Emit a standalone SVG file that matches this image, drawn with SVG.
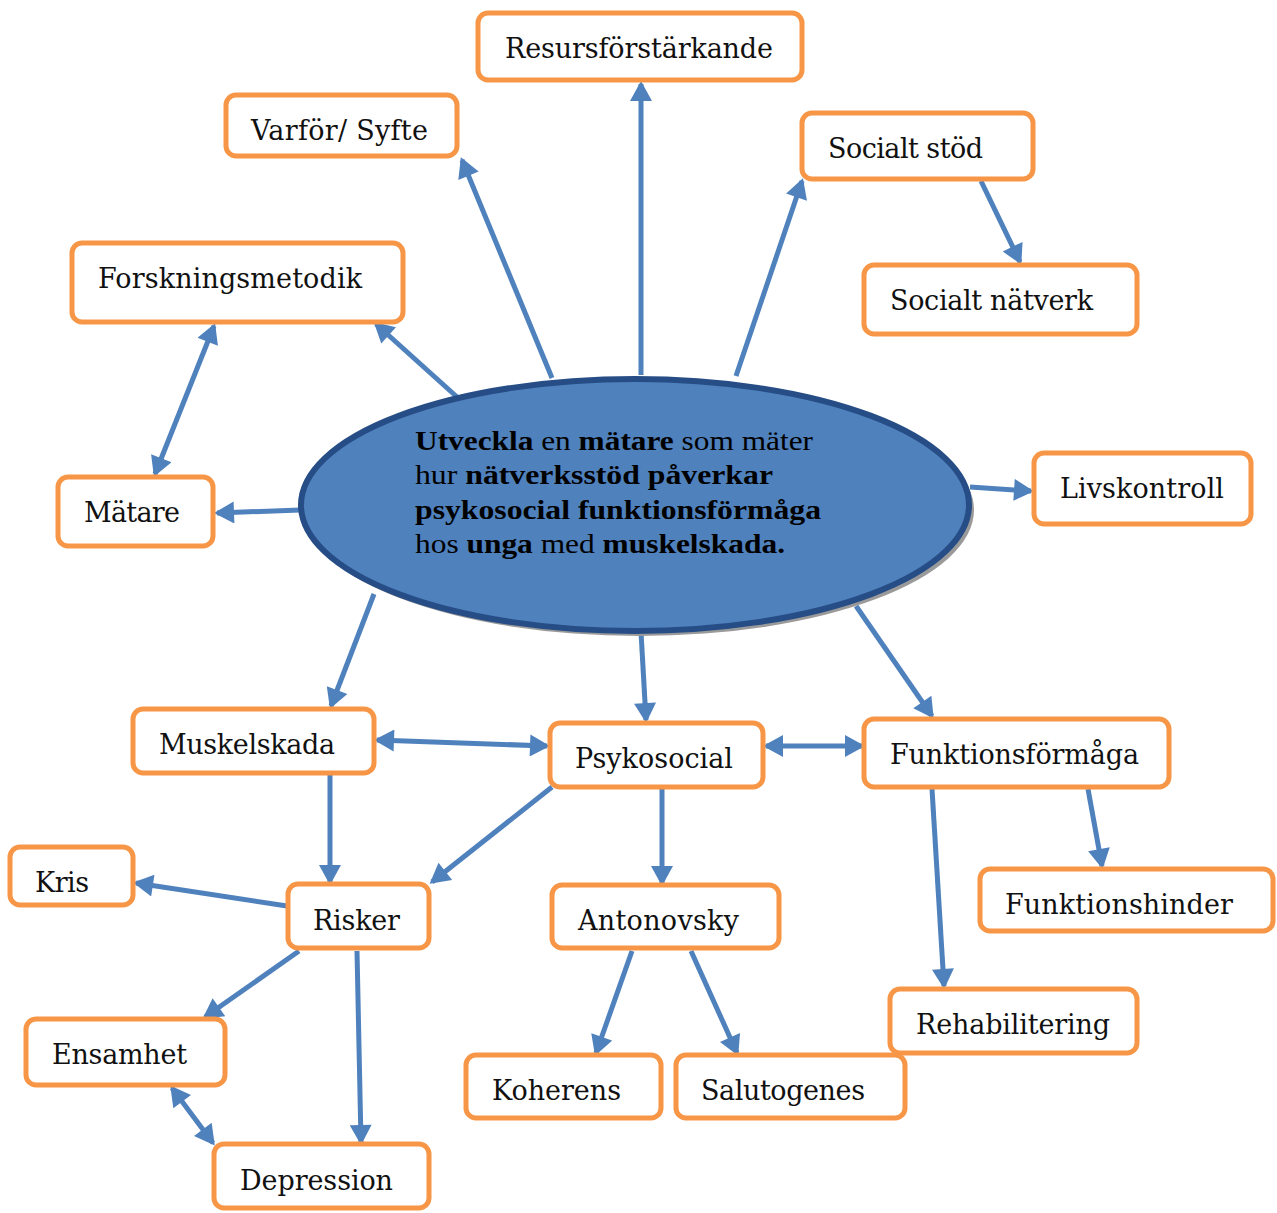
<svg xmlns="http://www.w3.org/2000/svg" width="1277" height="1213" viewBox="0 0 1277 1213">
<defs>
<style>
.box{fill:#fff;stroke:#f79646;stroke-width:5}
.lbl{font-family:"DejaVu Serif","Liberation Serif",serif;font-size:27px;fill:#111}
.c{stroke:#4f81bd;stroke-width:5;fill:none}
.e{font-family:"Liberation Serif","DejaVu Serif",serif;font-size:28px;fill:#000}
.b{font-weight:bold}
</style>
<marker id="ah" markerUnits="userSpaceOnUse" markerWidth="22" markerHeight="22" viewBox="0 0 20 22" refX="17" refY="11" orient="auto-start-reverse">
<path d="M0,0 L20,11 L0,22 Z" fill="#4f81bd"/>
</marker>
</defs>
<rect width="1277" height="1213" fill="#fff"/>
<g id="connectors">
<line class="c" x1="641" y1="375" x2="641" y2="84" marker-end="url(#ah)"/>
<line class="c" x1="552" y1="378" x2="462" y2="160" marker-end="url(#ah)"/>
<line class="c" x1="736" y1="376" x2="802" y2="181" marker-end="url(#ah)"/>
<line class="c" x1="981" y1="181" x2="1020" y2="262" marker-end="url(#ah)"/>
<line class="c" x1="457" y1="397" x2="376" y2="324" marker-end="url(#ah)"/>
<line class="c" x1="155" y1="474" x2="214" y2="326" marker-start="url(#ah)" marker-end="url(#ah)"/>
<line class="c" x1="300" y1="510" x2="217" y2="513" marker-end="url(#ah)"/>
<line class="c" x1="970" y1="487" x2="1031" y2="491" marker-end="url(#ah)"/>
<line class="c" x1="374" y1="594" x2="331" y2="706" marker-end="url(#ah)"/>
<line class="c" x1="641" y1="632" x2="646" y2="720" marker-end="url(#ah)"/>
<line class="c" x1="856" y1="606" x2="932" y2="716" marker-end="url(#ah)"/>
<line class="c" x1="377" y1="740" x2="547" y2="746" marker-start="url(#ah)" marker-end="url(#ah)"/>
<line class="c" x1="766" y1="746" x2="862" y2="746" marker-start="url(#ah)" marker-end="url(#ah)"/>
<line class="c" x1="330" y1="775" x2="330" y2="882" marker-end="url(#ah)"/>
<line class="c" x1="552" y1="787" x2="432" y2="882" marker-end="url(#ah)"/>
<line class="c" x1="662" y1="789" x2="662" y2="883" marker-end="url(#ah)"/>
<line class="c" x1="1088" y1="789" x2="1102" y2="866" marker-end="url(#ah)"/>
<line class="c" x1="932" y1="789" x2="944" y2="986" marker-end="url(#ah)"/>
<line class="c" x1="287" y1="906" x2="136" y2="883" marker-end="url(#ah)"/>
<line class="c" x1="299" y1="951" x2="205" y2="1017" marker-end="url(#ah)"/>
<line class="c" x1="357" y1="951" x2="361" y2="1142" marker-end="url(#ah)"/>
<line class="c" x1="172" y1="1088" x2="213" y2="1143" marker-start="url(#ah)" marker-end="url(#ah)"/>
<line class="c" x1="632" y1="951" x2="596" y2="1053" marker-end="url(#ah)"/>
<line class="c" x1="691" y1="951" x2="737" y2="1053" marker-end="url(#ah)"/>
</g>
<g id="center">
<ellipse cx="639" cy="510" rx="335" ry="126" fill="#9a9a9a"/>
<ellipse cx="635" cy="505" rx="334" ry="126" fill="#4f81bd" stroke="#264d85" stroke-width="6"/>
<text class="e" x="415" y="450" textLength="398" lengthAdjust="spacingAndGlyphs"><tspan class="b">Utveckla</tspan> en <tspan class="b">mätare</tspan> som mäter</text>
<text class="e" x="415" y="484" textLength="358" lengthAdjust="spacingAndGlyphs">hur <tspan class="b">nätverksstöd påverkar</tspan></text>
<text class="e b" x="415" y="519" textLength="406" lengthAdjust="spacingAndGlyphs">psykosocial funktionsförmåga</text>
<text class="e" x="415" y="553" textLength="370" lengthAdjust="spacingAndGlyphs">hos <tspan class="b">unga</tspan> med <tspan class="b">muskelskada.</tspan></text>
</g>
<g id="n-resurs"><rect class="box" x="478" y="13" width="324" height="67" rx="10"/><text class="lbl" x="505" y="58" textLength="268" lengthAdjust="spacing">Resursförstärkande</text></g>
<g id="n-varfor"><rect class="box" x="226" y="95" width="231" height="61" rx="10"/><text class="lbl" x="251" y="140" textLength="177" lengthAdjust="spacing">Varför/ Syfte</text></g>
<g id="n-socialtstod"><rect class="box" x="802" y="113" width="231" height="66" rx="10"/><text class="lbl" x="828" y="158" textLength="155" lengthAdjust="spacing">Socialt stöd</text></g>
<g id="n-forskning"><rect class="box" x="72" y="243" width="331" height="79" rx="10"/><text class="lbl" x="98" y="288" textLength="264" lengthAdjust="spacing">Forskningsmetodik</text></g>
<g id="n-natverk"><rect class="box" x="864" y="265" width="273" height="69" rx="10"/><text class="lbl" x="890" y="310" textLength="203" lengthAdjust="spacing">Socialt nätverk</text></g>
<g id="n-matare"><rect class="box" x="58" y="477" width="155" height="69" rx="10"/><text class="lbl" x="84" y="522" textLength="96" lengthAdjust="spacing">Mätare</text></g>
<g id="n-livskontroll"><rect class="box" x="1034" y="453" width="217" height="71" rx="10"/><text class="lbl" x="1060" y="498" textLength="164" lengthAdjust="spacing">Livskontroll</text></g>
<g id="n-muskelskada"><rect class="box" x="133" y="709" width="241" height="64" rx="10"/><text class="lbl" x="159" y="754" textLength="176" lengthAdjust="spacing">Muskelskada</text></g>
<g id="n-psykosocial"><rect class="box" x="550" y="723" width="213" height="64" rx="10"/><text class="lbl" x="575" y="768" textLength="158" lengthAdjust="spacing">Psykosocial</text></g>
<g id="n-funktionsformaga"><rect class="box" x="864" y="719" width="305" height="68" rx="10"/><text class="lbl" x="890" y="764" textLength="249" lengthAdjust="spacing">Funktionsförmåga</text></g>
<g id="n-kris"><rect class="box" x="10" y="847" width="123" height="58" rx="10"/><text class="lbl" x="35" y="892" textLength="54" lengthAdjust="spacing">Kris</text></g>
<g id="n-risker"><rect class="box" x="288" y="884" width="141" height="64" rx="10"/><text class="lbl" x="313" y="930" textLength="87" lengthAdjust="spacing">Risker</text></g>
<g id="n-antonovsky"><rect class="box" x="552" y="885" width="227" height="63" rx="10"/><text class="lbl" x="578" y="930" textLength="161" lengthAdjust="spacing">Antonovsky</text></g>
<g id="n-funktionshinder"><rect class="box" x="980" y="869" width="293" height="62" rx="10"/><text class="lbl" x="1005" y="914" textLength="228" lengthAdjust="spacing">Funktionshinder</text></g>
<g id="n-ensamhet"><rect class="box" x="26" y="1019" width="199" height="66" rx="10"/><text class="lbl" x="52" y="1064" textLength="135" lengthAdjust="spacing">Ensamhet</text></g>
<g id="n-rehab"><rect class="box" x="890" y="989" width="247" height="64" rx="10"/><text class="lbl" x="916" y="1034" textLength="194" lengthAdjust="spacing">Rehabilitering</text></g>
<g id="n-koherens"><rect class="box" x="466" y="1055" width="195" height="63" rx="10"/><text class="lbl" x="492" y="1100" textLength="129" lengthAdjust="spacing">Koherens</text></g>
<g id="n-salutogenes"><rect class="box" x="676" y="1055" width="229" height="63" rx="10"/><text class="lbl" x="701" y="1100" textLength="164" lengthAdjust="spacing">Salutogenes</text></g>
<g id="n-depression"><rect class="box" x="214" y="1144" width="215" height="64" rx="10"/><text class="lbl" x="240" y="1190" textLength="153" lengthAdjust="spacing">Depression</text></g>
</svg>
